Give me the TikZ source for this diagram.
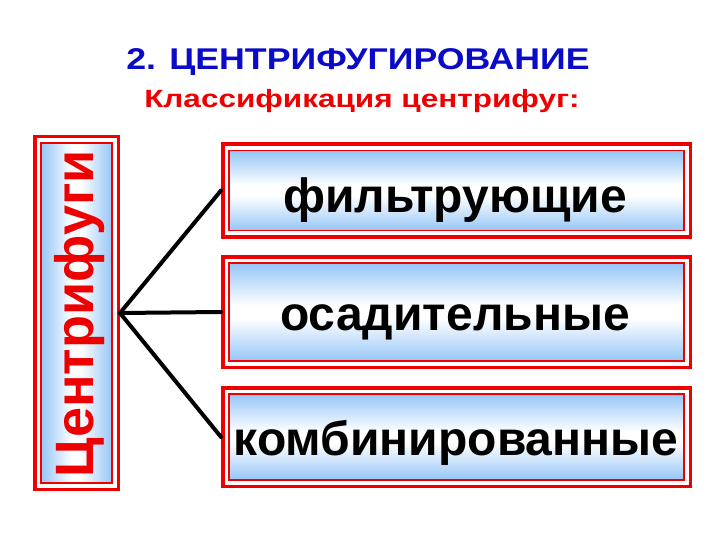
\documentclass[tikz,border=0pt]{standalone}
\usepackage{fontspec}
\setmainfont{Liberation Sans}
\definecolor{ttlblue}{RGB}{10,10,200}
\definecolor{bred}{RGB}{238,0,0}
\definecolor{lblue}{RGB}{150,198,246}
\pgfdeclareverticalshading{boxv}{100bp}{color(0bp)=(lblue); color(25bp)=(lblue); color(47bp)=(white); color(53bp)=(white); color(75bp)=(lblue); color(100bp)=(lblue)}
\pgfdeclarehorizontalshading{boxh}{100bp}{color(0bp)=(lblue); color(25bp)=(lblue); color(47bp)=(white); color(53bp)=(white); color(75bp)=(lblue); color(100bp)=(lblue)}
\tikzset{
  outerbox/.style={draw=bred, line width=3.5pt, fill=white, inner sep=0pt},
  innerhbox/.style={draw=bred, line width=1.2pt, inner sep=0pt, shading=boxv},
  innervbox/.style={draw=bred, line width=1.2pt, inner sep=0pt, shading=boxh},
  itemtext/.style={font=\bfseries\fontsize{48}{48}\selectfont, text=black, anchor=base, inner sep=0pt},
  conn/.style={draw=black, line width=4pt, line cap=round, line join=round}
}
\begin{document}
\begin{tikzpicture}[x=1pt,y=-1pt]
\useasboundingbox (0,0) rectangle (720,540);
\fill[white] (0,0) rectangle (720,540);

\node[font=\bfseries\fontsize{30}{30}\selectfont, text=ttlblue, xscale=1.19, anchor=base, inner sep=0pt] (title) at (358,70) {2. ЦЕНТРИФУГИРОВАНИЕ};
\node[font=\bfseries\fontsize{25}{25}\selectfont, text=bred, xscale=1.26, anchor=base, inner sep=0pt] (sub) at (362,108) {Классификация центрифуг:};

% left vertical box
\node[outerbox, minimum width=83.5pt, minimum height=352.5pt] (lbo) at (76.5,313) {};
\node[innervbox, minimum width=71pt, minimum height=340pt] (lb) at (lbo.center) {};
\node[rotate=90, font=\bfseries\fontsize{54}{54}\selectfont, text=bred] (lbt) at (80,314) {Центрифуги};

% right boxes
\node[outerbox, minimum width=467.5pt, minimum height=92.5pt] (b1o) at (456.5,190.5) {};
\node[innerhbox, minimum width=455pt, minimum height=80pt] (b1) at (b1o.center) {};
\node[itemtext] (t1) at (455,213) {фильтрующие};

\node[outerbox, minimum width=467.5pt, minimum height=110.5pt] (b2o) at (456.5,312) {};
\node[innerhbox, minimum width=455pt, minimum height=98pt] (b2) at (b2o.center) {};
\node[itemtext] (t2) at (455,330) {осадительные};

\node[outerbox, minimum width=467.5pt, minimum height=98.5pt] (b3o) at (456.5,437) {};
\node[innerhbox, minimum width=455pt, minimum height=86pt] (b3) at (b3o.center) {};
\node[itemtext] (t3) at (456,455) {комбинированные};

% connectors
\coordinate (fan) at (lbo.east);
\draw[conn] (fan) -- (b1o.west);
\draw[conn] (fan) -- (b2o.west);
\draw[conn] (fan) -- (b3o.west);
\end{tikzpicture}
\end{document}
